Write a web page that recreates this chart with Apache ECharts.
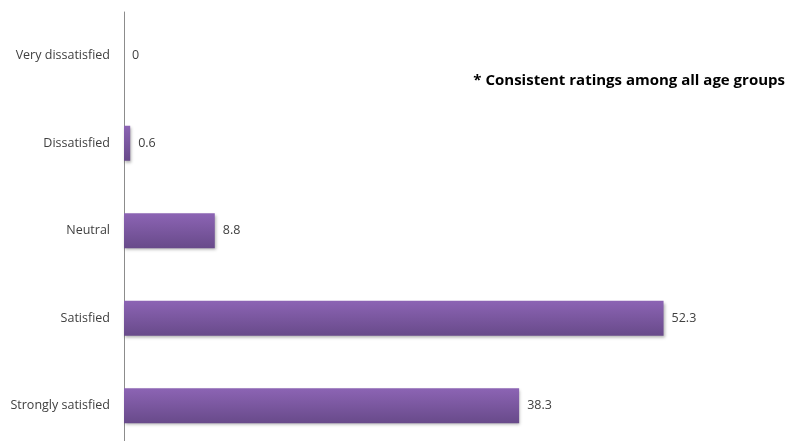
<!DOCTYPE html>
<html>
<head>
<meta charset="utf-8">
<script src="https://cdn.jsdelivr.net/npm/echarts@6/dist/echarts.min.js"></script>
<style>
  html, body { margin: 0; padding: 0; background: #fff; }
  #chart { width: 788px; height: 441px; }
</style>
</head>
<body>
<div id="chart"></div>
<script>
// Satisfaction ratings (percent of respondents)
const categories = ['Very dissatisfied', 'Dissatisfied', 'Neutral', 'Satisfied', 'Strongly satisfied'];
const values = [0, 0.6, 8.8, 52.3, 38.3];
const note = '* Consistent ratings among all age groups';

const chart = echarts.init(document.getElementById('chart'));
const FONT = '"Open Sans", "Liberation Sans", sans-serif';

chart.setOption({
  animation: false,
  grid: {
    left: 124, width: 619, top: 12, height: 437.5,
    containLabel: false, outerBoundsMode: 'none'
  },
  xAxis: {
    type: 'value', min: 0, max: 60,
    show: false
  },
  yAxis: {
    type: 'category',
    data: categories,
    inverse: true,
    axisLine: { show: true, lineStyle: { color: '#8c8c8c', width: 1 } },
    axisTick: { show: false },
    axisLabel: { color: '#404040', fontFamily: FONT, fontSize: 12.5, margin: 14 }
  },
  graphic: [{
    type: 'text',
    right: 3, top: 73,
    style: { text: note, fill: '#000', font: 'bold 15px ' + FONT }
  }],
  series: [{
    type: 'bar',
    data: values,
    barWidth: '40%',
    itemStyle: {
      color: new echarts.graphic.LinearGradient(0, 0, 0, 1, [
        { offset: 0, color: '#8c64b4' },
        { offset: 1, color: '#684a8a' }
      ]),
      shadowColor: 'rgba(0,0,0,0.3)',
      shadowBlur: 3,
      shadowOffsetX: 1,
      shadowOffsetY: 2
    },
    label: {
      show: true, position: 'right', distance: 8,
      color: '#404040', fontFamily: FONT, fontSize: 12.5
    }
  }]
});
</script>
</body>
</html>
